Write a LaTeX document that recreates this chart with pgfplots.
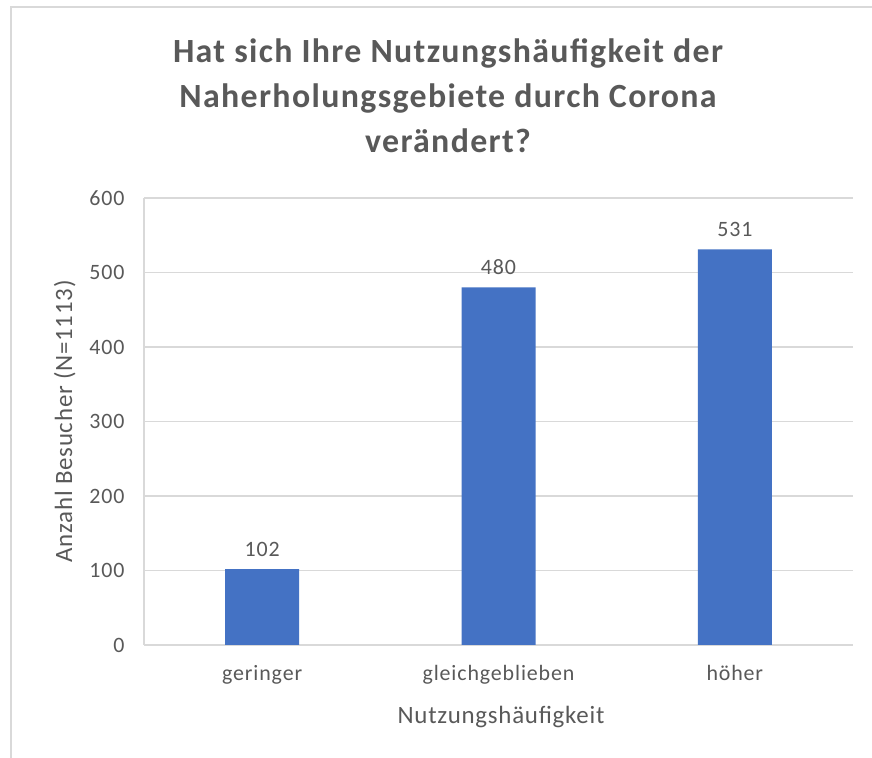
\documentclass[border=0pt]{standalone}
\usepackage{fontspec}
\setmainfont{Carlito}
\newfontfamily\tickfont[LetterSpace=4]{Carlito}
\newfontfamily\labfont[LetterSpace=3]{Carlito}
\newfontfamily\titfont[LetterSpace=4]{Carlito}
\usepackage{pgfplots}
\pgfplotsset{compat=1.18}
\definecolor{barc}{HTML}{4472C4}
\definecolor{txt}{HTML}{595959}
\definecolor{grd}{HTML}{D9D9D9}
\begin{document}
\begin{tikzpicture}[x=1bp,y=1bp]
\useasboundingbox (0,0) rectangle (872,758);
\fill[white] (0,0) rectangle (872,758);
\draw[grd, line width=1.5bp] (11,0) -- (11,751) -- (872,751);
\begin{axis}[
  at={(144bp,113bp)}, anchor=south west,
  scale only axis, width=709bp, height=447bp,
  xmin=-0.5, xmax=2.5, ymin=0, ymax=600,
  ytick={0,100,...,600}, xtick={0,1,2},
  xticklabels={geringer,gleichgeblieben,höher},
  ymajorgrids, grid style={grd, line width=1.2bp},
  axis x line*=bottom, axis y line*=left,
  axis line style={grd, line width=1.2bp, -},
  major tick length=0pt,
  tick label style={font=\tickfont\fontsize{22}{26}\selectfont, text=txt},
  /pgf/number format/assume math mode=true,
  yticklabel style={xshift=-16bp},
  xticklabel style={yshift=-17bp},
  nodes near coords,
  nodes near coords style={font=\tickfont\fontsize{22}{26}\selectfont, text=txt, yshift=9bp},
  bar width=74bp,
]
\addplot[ybar, fill=barc, draw=none] coordinates {(0,102) (1,480) (2,531)};
\end{axis}
\begin{scope}[every node/.style={text=txt, font=\titfont\bfseries\fontsize{34}{45}\selectfont, anchor=base}]
\node at (448,695) {Hat sich Ihre Nutzungshäufigkeit der};
\node at (448,650) {Naherholungsgebiete durch Corona};
\node at (448,605) {verändert?};
\end{scope}
\node[text=txt, font=\labfont\fontsize{25}{30}\selectfont, rotate=90, anchor=base] at (72,336.5) {Anzahl Besucher (N=1113)};
\node[text=txt, font=\labfont\fontsize{25}{30}\selectfont, anchor=base] at (501,34) {Nutzungshäufigkeit};
\end{tikzpicture}
\end{document}
